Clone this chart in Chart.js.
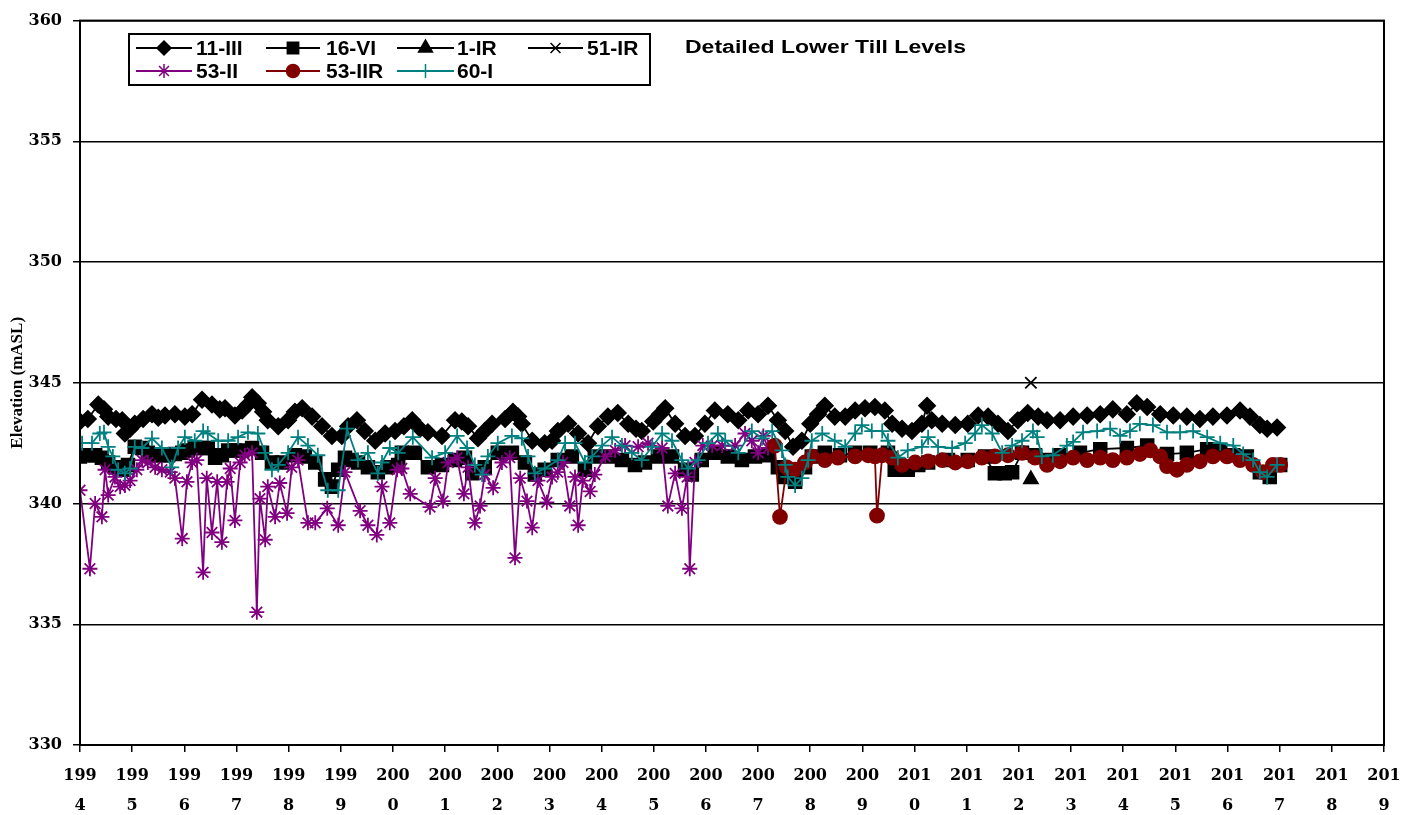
<!DOCTYPE html>
<html>
<head>
<meta charset="utf-8">
<script src="https://cdn.jsdelivr.net/npm/chart.js@4.4.1/dist/chart.umd.min.js"></script>
<style>
  body { margin: 0; background: #fff; }
  #wrap { width: 1414px; height: 815px; }
</style>
</head>
<body>
<div id="wrap"><canvas id="levelChart" width="1414" height="815"></canvas></div>
<script>
// Tick labels / range
const yearTicks = [1994, 2019];
const elevTicks = [330, 360, 5];

// [decimal year, elevation mASL]
const s11III = [
  [1994.00,343.4],[1994.15,343.5],[1994.35,344.1],[1994.46,343.9],[1994.54,343.6],[1994.69,343.5],[1994.81,343.45],[1994.86,342.9],
  [1994.96,343.1],[1995.05,343.3],[1995.21,343.5],[1995.38,343.7],[1995.50,343.55],[1995.63,343.65],[1995.82,343.7],[1996.01,343.6],
  [1996.15,343.7],[1996.34,344.3],[1996.53,344.1],[1996.68,343.9],[1996.78,343.95],[1996.97,343.65],[1997.11,343.85],[1997.22,344.1],
  [1997.30,344.4],[1997.41,344.15],[1997.51,343.8],[1997.60,343.45],[1997.80,343.2],[1997.99,343.45],[1998.12,343.8],[1998.26,343.95],
  [1998.45,343.6],[1998.64,343.2],[1998.83,342.8],[1999.02,342.8],[1999.14,343.2],[1999.31,343.45],[1999.46,343.0],[1999.66,342.6],
  [1999.85,342.9],[2000.04,343.0],[2000.21,343.2],[2000.37,343.45],[2000.52,343.1],[2000.67,342.95],[2000.94,342.8],[2001.19,343.45],
  [2001.32,343.4],[2001.44,343.2],[2001.63,342.7],[2001.76,343.0],[2001.90,343.3],[2002.15,343.5],[2002.30,343.8],[2002.40,343.6],
  [2002.47,343.3],[2002.67,342.6],[2002.91,342.5],[2003.05,342.6],[2003.16,343.0],[2003.36,343.3],[2003.55,342.9],[2003.74,342.5],
  [2003.93,343.2],[2004.12,343.6],[2004.31,343.75],[2004.51,343.3],[2004.66,343.1],[2004.77,343.0],[2004.99,343.4],[2005.12,343.7],
  [2005.22,343.95],[2005.41,343.3],[2005.60,342.8],[2005.79,342.8],[2005.98,343.3],[2006.17,343.85],[2006.42,343.7],[2006.62,343.45],
  [2006.81,343.85],[2007.00,343.7],[2007.19,344.05],[2007.38,343.45],[2007.52,343.0],[2007.67,342.35],[2007.84,342.6],[2008.00,343.3],
  [2008.15,343.7],[2008.28,344.05],[2008.47,343.6],[2008.67,343.6],[2008.86,343.85],[2009.05,343.95],[2009.24,344.0],[2009.43,343.85],
  [2009.57,343.3],[2009.76,343.1],[2009.95,343.0],[2010.14,343.3],[2010.24,344.05],[2010.33,343.45],[2010.53,343.3],[2010.78,343.25],
  [2011.02,343.3],[2011.22,343.65],[2011.41,343.6],[2011.60,343.3],[2011.79,343.0],[2011.98,343.45],[2012.17,343.75],[2012.37,343.6],
  [2012.54,343.45],[2012.79,343.45],[2013.04,343.6],[2013.31,343.65],[2013.56,343.7],[2013.80,343.9],[2014.07,343.7],[2014.26,344.15],
  [2014.46,344.0],[2014.71,343.7],[2014.96,343.65],[2015.22,343.6],[2015.47,343.5],[2015.72,343.6],[2015.99,343.65],[2016.24,343.85],
  [2016.43,343.6],[2016.62,343.25],[2016.76,343.1],[2016.95,343.15]
];

const s16VI = [
  [1994.00,341.95],[1994.15,342.0],[1994.29,342.0],[1994.42,341.9],[1994.54,341.7],[1994.67,341.5],[1994.81,341.4],[1994.92,341.6],
  [1995.05,342.35],[1995.19,342.3],[1995.30,342.1],[1995.44,342.0],[1995.57,342.0],[1995.69,342.0],[1995.82,342.05],[1995.96,342.1],
  [1996.07,342.2],[1996.20,342.3],[1996.34,342.3],[1996.45,342.3],[1996.59,341.9],[1996.72,342.0],[1996.84,342.2],[1996.97,342.2],
  [1997.11,342.2],[1997.30,342.3],[1997.49,342.1],[1997.68,341.7],[1997.87,341.7],[1998.12,342.0],[1998.31,341.95],[1998.51,341.7],
  [1998.70,341.0],[1998.83,340.7],[1998.95,341.4],[1999.08,341.9],[1999.21,341.8],[1999.33,341.7],[1999.52,341.5],[1999.71,341.3],
  [1999.90,341.5],[2000.10,341.6],[2000.17,342.1],[2000.42,342.1],[2000.67,341.5],[2000.94,341.6],[2001.19,341.8],[2001.38,341.9],
  [2001.52,341.25],[2001.76,341.5],[2002.01,342.1],[2002.28,342.1],[2002.53,341.7],[2002.72,341.2],[2002.91,341.4],[2003.16,341.8],
  [2003.43,341.95],[2003.68,341.4],[2003.87,341.95],[2004.12,341.95],[2004.39,341.8],[2004.64,341.6],[2004.83,341.7],[2005.08,341.95],
  [2005.35,341.95],[2005.60,341.4],[2005.73,341.2],[2005.92,341.8],[2006.17,342.1],[2006.42,341.95],[2006.69,341.8],[2006.94,341.95],
  [2007.19,342.0],[2007.38,341.5],[2007.52,341.1],[2007.71,340.9],[2007.90,341.5],[2008.03,341.95],[2008.28,342.1],[2008.57,342.0],
  [2008.86,342.1],[2009.15,342.1],[2009.49,342.1],[2009.62,341.4],[2009.87,341.4],[2010.07,341.6],[2010.26,341.7],[2010.64,341.8],
  [2011.02,341.8],[2011.35,341.95],[2011.54,341.25],[2011.73,341.25],[2011.87,341.3],[2012.06,342.1],[2012.31,342.0],[2012.54,341.8],
  [2012.79,342.0],[2013.17,342.1],[2013.56,342.25],[2014.07,342.3],[2014.46,342.4],[2014.84,342.05],[2015.22,342.1],[2015.61,342.25],
  [2015.86,342.2],[2016.11,342.0],[2016.37,341.95],[2016.62,341.3],[2016.81,341.1],[2017.01,341.6]
];

const s1IR = [[2012.23,341.0]];
const s51IR = [[2012.23,345.0]];

const s53II = [
  [1994.00,340.55],[1994.19,337.3],[1994.29,340.0],[1994.42,339.45],[1994.48,341.4],[1994.54,340.35],[1994.67,341.1],[1994.77,340.7],
  [1994.86,340.75],[1994.96,340.95],[1995.09,341.4],[1995.19,341.8],[1995.30,341.7],[1995.44,341.5],[1995.57,341.4],[1995.73,341.3],
  [1995.82,341.05],[1995.96,338.55],[1996.05,340.9],[1996.15,341.7],[1996.24,341.8],[1996.36,337.15],[1996.43,341.05],[1996.53,338.8],
  [1996.63,340.9],[1996.72,338.4],[1996.82,340.9],[1996.88,341.45],[1996.97,339.3],[1997.07,341.7],[1997.16,342.0],[1997.30,342.1],
  [1997.39,335.5],[1997.45,340.2],[1997.55,338.5],[1997.60,340.7],[1997.74,339.45],[1997.83,340.85],[1997.97,339.6],[1998.06,341.5],
  [1998.18,341.8],[1998.37,339.2],[1998.51,339.2],[1998.74,339.8],[1998.95,339.1],[1999.08,341.3],[1999.37,339.7],[1999.52,339.1],
  [1999.69,338.7],[1999.79,340.7],[1999.94,339.2],[2000.08,341.4],[2000.17,341.45],[2000.33,340.4],[2000.71,339.85],[2000.81,341.05],
  [2000.96,340.1],[2001.06,341.7],[2001.23,341.9],[2001.36,340.4],[2001.44,341.5],[2001.57,339.2],[2001.67,339.9],[2001.76,341.2],
  [2001.92,340.65],[2002.09,341.7],[2002.24,341.9],[2002.34,337.75],[2002.44,341.05],[2002.57,340.1],[2002.67,339.0],[2002.78,340.95],
  [2002.95,340.05],[2003.05,341.1],[2003.16,341.3],[2003.26,341.7],[2003.39,339.9],[2003.49,341.1],[2003.55,339.1],[2003.64,340.95],
  [2003.78,340.5],[2003.87,341.2],[2004.07,341.95],[2004.26,342.2],[2004.45,342.4],[2004.70,342.35],[2004.89,342.5],[2005.16,342.3],
  [2005.27,339.9],[2005.41,341.25],[2005.54,339.8],[2005.64,341.1],[2005.69,337.3],[2005.79,341.7],[2005.94,342.4],[2006.12,342.4],
  [2006.31,342.4],[2006.56,342.4],[2006.75,342.9],[2006.88,342.6],[2007.00,342.1],[2007.10,342.8],[2007.19,342.3]
];

const s53IIR = [
  [2007.32,342.4],[2007.42,339.45],[2007.55,341.5],[2007.71,341.4],[2007.90,341.7],[2008.03,341.95],[2008.28,341.8],[2008.53,341.9],
  [2008.86,341.95],[2009.11,342.0],[2009.24,341.95],[2009.28,339.5],[2009.38,342.0],[2009.57,341.9],[2009.76,341.6],[2010.01,341.7],
  [2010.26,341.75],[2010.53,341.8],[2010.78,341.7],[2011.02,341.75],[2011.29,341.9],[2011.54,341.95],[2011.79,342.0],[2012.06,342.1],
  [2012.31,341.9],[2012.54,341.6],[2012.79,341.75],[2013.04,341.9],[2013.31,341.8],[2013.56,341.9],[2013.80,341.8],[2014.07,341.9],
  [2014.32,342.05],[2014.52,342.2],[2014.71,341.95],[2014.84,341.55],[2015.03,341.4],[2015.22,341.6],[2015.47,341.75],[2015.72,341.95],
  [2015.99,341.95],[2016.24,341.8],[2016.49,341.6],[2016.68,341.3],[2016.87,341.6],[2017.01,341.6]
];

const s60I = [
  [1994.04,342.5],[1994.23,342.5],[1994.38,342.9],[1994.46,342.95],[1994.54,342.35],[1994.63,341.95],[1994.73,341.4],[1994.86,341.25],
  [1994.96,341.45],[1995.05,342.35],[1995.19,342.3],[1995.38,342.7],[1995.57,342.3],[1995.76,341.5],[1995.88,342.3],[1996.01,342.75],
  [1996.20,342.6],[1996.36,343.0],[1996.45,342.9],[1996.65,342.6],[1996.84,342.6],[1997.03,342.75],[1997.22,342.95],[1997.41,342.9],
  [1997.55,342.1],[1997.68,341.4],[1997.80,341.6],[1997.99,342.1],[1998.18,342.75],[1998.37,342.4],[1998.56,342.0],[1998.75,340.55],
  [1998.95,340.55],[1999.12,343.1],[1999.33,341.8],[1999.52,342.1],[1999.71,341.25],[1999.79,341.7],[1999.94,342.3],[2000.10,342.1],
  [2000.38,342.75],[2000.75,341.9],[2001.00,342.1],[2001.23,342.8],[2001.42,342.3],[2001.57,341.6],[2001.71,341.2],[2001.82,341.95],
  [2002.01,342.5],[2002.28,342.8],[2002.47,342.7],[2002.59,341.95],[2002.72,341.25],[2002.91,341.45],[2003.16,341.8],[2003.30,342.5],
  [2003.49,342.5],[2003.68,341.7],[2003.82,341.95],[2004.01,342.4],[2004.20,342.75],[2004.39,342.4],[2004.58,342.1],[2004.77,341.8],
  [2004.97,342.35],[2005.16,342.9],[2005.35,342.6],[2005.54,341.8],[2005.66,341.45],[2005.85,341.8],[2006.04,342.5],[2006.23,342.9],
  [2006.37,342.6],[2006.62,342.1],[2006.88,343.0],[2007.08,342.7],[2007.27,343.0],[2007.46,342.2],[2007.52,341.6],[2007.57,341.1],
  [2007.71,340.75],[2007.84,341.05],[2007.96,341.8],[2008.03,342.6],[2008.23,342.9],[2008.47,342.6],[2008.67,342.35],[2008.86,342.9],
  [2008.99,343.25],[2009.18,343.0],[2009.38,343.0],[2009.49,342.6],[2009.68,341.9],[2009.87,342.2],[2010.14,342.35],[2010.26,342.75],
  [2010.45,342.35],[2010.72,342.3],[2010.97,342.5],[2011.16,342.9],[2011.29,343.25],[2011.49,342.9],[2011.68,342.1],[2011.87,342.4],
  [2012.06,342.6],[2012.27,343.0],[2012.35,342.75],[2012.44,341.95],[2012.65,342.0],[2012.92,342.4],[2013.04,342.55],[2013.23,342.95],
  [2013.50,343.0],[2013.75,343.1],[2013.94,342.8],[2014.13,343.0],[2014.32,343.3],[2014.57,343.25],[2014.84,342.95],[2015.09,342.95],
  [2015.34,343.0],[2015.61,342.75],[2015.86,342.5],[2016.11,342.4],[2016.30,342.05],[2016.49,341.8],[2016.62,341.3],[2016.76,341.1],
  [2016.95,341.6]
];

// series styling (legend order); legR = marker size in legend box
const seriesList = [
  { label: '11-III', data: s11III, color: '#000000', style: 'rectRot', radius: 8, legR: 7 },
  { label: '16-VI', data: s16VI, color: '#000000', style: 'rect', radius: 9, legR: 8 },
  { label: '1-IR', data: s1IR, color: '#000000', style: 'triangle', radius: 8, legR: 8 },
  { label: '51-IR', data: s51IR, color: '#000000', style: 'crossRot', radius: 8, legR: 7 },
  { label: '53-II', data: s53II, color: '#800080', style: 'star', radius: 7.5, legR: 7 },
  { label: '53-IIR', data: s53IIR, color: '#800000', style: 'circle', radius: 7, legR: 6.5 },
  { label: '60-I', data: s60I, color: '#008080', style: 'cross', radius: 7.5, legR: 7 }
];

const serif = "'Liberation Serif', 'Times New Roman', serif";
const wideSerif = "'DejaVu Serif', serif";
const sans = "'Liberation Sans', Arial, sans-serif";

// Legend box + title inside plot, and the right-hand frame
const legendPlugin = {
    id: 'tillLegend',
    afterDraw(chart) {
        const ctx = chart.ctx;
        const a = chart.chartArea;
        ctx.save();
        ctx.strokeStyle = '#000';
        ctx.lineWidth = 2;
        ctx.strokeRect(a.left, a.top, a.right - a.left, a.bottom - a.top);

        ctx.fillStyle = '#fff';
        ctx.fillRect(129, 34, 521, 51);
        ctx.strokeRect(129, 34, 521, 51);

        const cols = [[136, 192, 196], [266, 320, 326], [397, 454, 457], [528, 583, 587]];
        const rows = [48, 71];
        ctx.font = 'bold 21px ' + sans;
        ctx.textBaseline = 'middle';
        seriesList.forEach((s, i) => {
            const c = cols[i < 4 ? i : i - 4];
            const y = rows[i < 4 ? 0 : 1];
            ctx.strokeStyle = s.color;
            ctx.fillStyle = s.color;
            ctx.lineWidth = 2;
            ctx.beginPath();
            ctx.moveTo(c[0], y);
            ctx.lineTo(c[1], y);
            ctx.stroke();
            ctx.lineWidth = 1.5;
            Chart.helpers.drawPoint(ctx, { pointStyle: s.style, radius: s.legR, rotation: 0, borderWidth: 1.5 }, (c[0] + c[1]) / 2, y);
            ctx.fillStyle = '#000';
            ctx.fillText(s.label, c[2], y + 1);
        });

        // title, stretched to the reference width
        const title = 'Detailed Lower Till Levels';
        ctx.font = 'bold 18px ' + sans;
        const w = ctx.measureText(title).width;
        ctx.translate(685, 48);
        ctx.scale(281 / w, 1);
        ctx.fillText(title, 0, 0);
        ctx.restore();
    }
};

document.addEventListener('DOMContentLoaded', function() {
    const ctx = document.getElementById('levelChart').getContext('2d');
    const levelChart = new Chart(ctx, {
        type: 'line',
        data: {
            datasets: seriesList.map((s, i) => ({
                label: s.label,
                data: s.data.map(p => ({ x: p[0], y: p[1] })),
                borderColor: s.color,
                backgroundColor: s.color,
                borderWidth: 1.8,
                pointStyle: s.style,
                pointRadius: s.radius,
                pointBorderWidth: 1.8,
                pointBorderColor: s.color,
                pointBackgroundColor: s.color,
                tension: 0,
                fill: false,
                order: seriesList.length - i
            }))
        },
        options: {
            responsive: false,
            animation: false,
            layout: { padding: { left: 0, right: 30, top: 20, bottom: 0 } },
            plugins: {
                legend: { display: false },
                tooltip: { enabled: false }
            },
            scales: {
                x: {
                    type: 'linear',
                    min: yearTicks[0],
                    max: yearTicks[1],
                    afterFit: s => { s.height = 70; },
                    afterBuildTicks: s => {
                        s.ticks = [];
                        for (let v = yearTicks[0]; v <= yearTicks[1]; v++) s.ticks.push({ value: v });
                    },
                    ticks: {
                        color: '#000',
                        autoSkip: false,
                        maxRotation: 0,
                        padding: 9,
                        font: { family: wideSerif, size: 16, weight: 'bold', lineHeight: '30px' },
                        callback: v => { const t = String(v); return [t.slice(0, 3), t.slice(3)]; }
                    },
                    grid: { drawOnChartArea: false, drawTicks: true, tickLength: 7, color: '#000', lineWidth: 1.5 },
                    border: { color: '#000', width: 2 }
                },
                y: {
                    min: elevTicks[0],
                    max: elevTicks[1],
                    afterFit: s => { s.width = 80; },
                    ticks: {
                        stepSize: elevTicks[2],
                        color: '#000',
                        padding: 11,
                        font: { family: wideSerif, size: 16, weight: 'bold' }
                    },
                    grid: { color: '#000', lineWidth: 1.5, tickLength: 7 },
                    border: { color: '#000', width: 2 },
                    title: {
                        display: true,
                        text: 'Elevation (mASL)',
                        color: '#000',
                        padding: { top: 7, bottom: 0 },
                        font: { family: serif, size: 17, weight: 'bold' }
                    }
                }
            }
        },
        plugins: [legendPlugin]
    });
});
</script>
</body>
</html>
